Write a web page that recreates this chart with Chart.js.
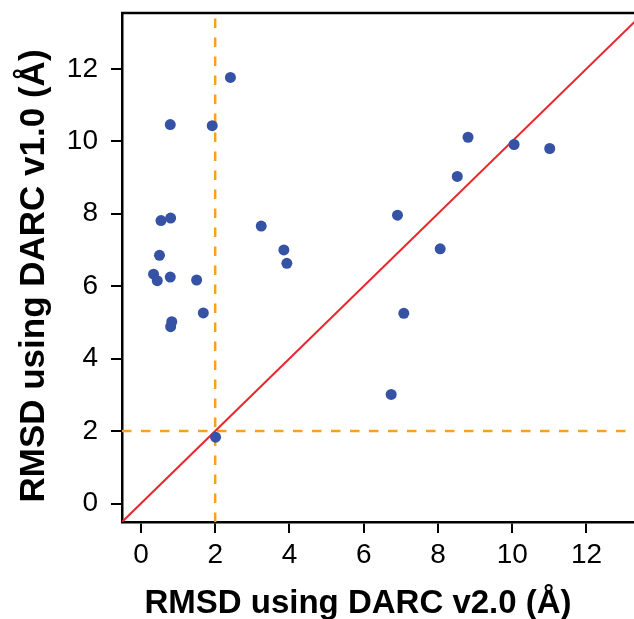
<!DOCTYPE html>
<html>
<head>
<meta charset="utf-8">
<title>RMSD DARC v1.0 vs v2.0</title>
<script src="https://cdn.jsdelivr.net/npm/chart.js@4.4.0/dist/chart.umd.min.js"></script>
<style>
  html, body { margin: 0; padding: 0; background: #fff; }
  #wrap { width: 634px; height: 619px; }
</style>
</head>
<body>
<div id="wrap"><canvas id="rmsdChart" width="634" height="619"></canvas></div>
<script>
/* RMSD (Å) per target: DARC v2.0 (x) vs DARC v1.0 (y) */
const v2Rmsd = [2.41, 0.79, 1.92, 0.54, 0.80, 3.24, 0.50, 3.85, 3.93, 0.34, 0.44, 0.79, 1.50,
                6.91, 1.68, 0.83, 0.80, 6.74, 2.01, 8.81, 10.05, 11.01, 8.52, 8.06, 7.08];
const v1Rmsd = [11.76, 10.46, 10.43, 7.81, 7.88, 7.66, 6.85, 7.00, 6.63, 6.33, 6.15, 6.25, 6.17,
                7.96, 5.26, 5.02, 4.88, 3.01, 1.83, 10.11, 9.91, 9.80, 9.03, 7.03, 5.25];

const xTicks = [0, 2, 4, 6, 8, 10, 12];
const yTicks = [0, 2, 4, 6, 8, 10, 12];
const xRange = [-0.51, 13.28];
const yRange = [-0.51, 13.54];
const cutoff = 2;

const FONT = "'Liberation Sans', Arial, Helvetica, sans-serif";

// axis titles + top frame line
const framePlugin = {
  id: 'frame',
  afterDraw(chart) {
    const { ctx, chartArea } = chart;
    ctx.save();
    ctx.strokeStyle = '#000';
    ctx.lineWidth = 2.5;
    ctx.beginPath();
    ctx.moveTo(chartArea.left - 1, chartArea.top);
    ctx.lineTo(chartArea.right, chartArea.top);
    ctx.stroke();

    ctx.fillStyle = '#000';
    ctx.font = 'bold 33px ' + FONT;
    ctx.textAlign = 'center';
    ctx.textBaseline = 'alphabetic';
    ctx.fillText('RMSD using DARC v2.0 (Å)', 358, 613);

    ctx.font = 'bold 35px ' + FONT;
    ctx.translate(44, 276);
    ctx.rotate(-Math.PI / 2);
    ctx.fillText('RMSD using DARC v1.0 (Å)', 0, 0);
    ctx.restore();
  }
};

function setTicks(values) {
  return (axis) => { axis.ticks = values.map(v => ({ value: v })); };
}

// fixed axis box, no extra room for end labels
function fitBox(size) {
  return (axis) => {
    if (axis.isHorizontal()) axis.height = size; else axis.width = size;
    axis.paddingTop = 0;
    axis.paddingBottom = 0;
    axis.paddingLeft = 0;
    axis.paddingRight = 0;
  };
}

const ctx = document.getElementById('rmsdChart').getContext('2d');

new Chart(ctx, {
  type: 'scatter',
  data: {
    datasets: [
      {
        label: 'Targets',
        data: v2Rmsd.map((x, i) => ({ x, y: v1Rmsd[i] })),
        backgroundColor: '#3652a4',
        borderWidth: 0,
        pointRadius: 5.5
      },
      {
        label: 'y = x',
        data: [{ x: xRange[0], y: xRange[0] }, { x: yRange[1], y: yRange[1] }],
        showLine: true,
        borderColor: '#e8262b',
        borderWidth: 2,
        pointRadius: 0
      },
      {
        label: 'v2.0 cutoff',
        data: [{ x: cutoff, y: yRange[0] }, { x: cutoff, y: yRange[1] }],
        showLine: true,
        borderColor: '#f8a21c',
        borderWidth: 2.5,
        borderDash: [9.5, 9.5],
        pointRadius: 0
      },
      {
        label: 'v1.0 cutoff',
        data: [{ x: xRange[0], y: cutoff }, { x: xRange[1], y: cutoff }],
        showLine: true,
        borderColor: '#f8a21c',
        borderWidth: 2.5,
        borderDash: [9.5, 9.5],
        pointRadius: 0
      }
    ]
  },
  options: {
    responsive: false,
    animation: false,
    layout: { autoPadding: false, padding: { top: 13, right: 0, left: 0, bottom: 0 } },
    plugins: {
      legend: { display: false },
      tooltip: { enabled: false }
    },
    scales: {
      x: {
        type: 'linear',
        min: xRange[0],
        max: xRange[1],
        afterBuildTicks: setTicks(xTicks),
        afterFit: fitBox(97),
        border: { display: true, color: '#000', width: 2.5 },
        grid: { display: true, drawOnChartArea: false, tickLength: 11, color: '#000', lineWidth: 2 },
        ticks: { color: '#000', padding: 5, font: { family: FONT, size: 28 }, maxRotation: 0 }
      },
      y: {
        type: 'linear',
        min: yRange[0],
        max: yRange[1],
        afterBuildTicks: setTicks(yTicks),
        afterFit: fitBox(122),
        border: { display: true, color: '#000', width: 2.5 },
        grid: { display: true, drawOnChartArea: false, tickLength: 11, color: '#000', lineWidth: 2 },
        ticks: { color: '#000', padding: 13, font: { family: FONT, size: 28 } }
      }
    }
  },
  plugins: [framePlugin]
});
</script>
</body>
</html>
